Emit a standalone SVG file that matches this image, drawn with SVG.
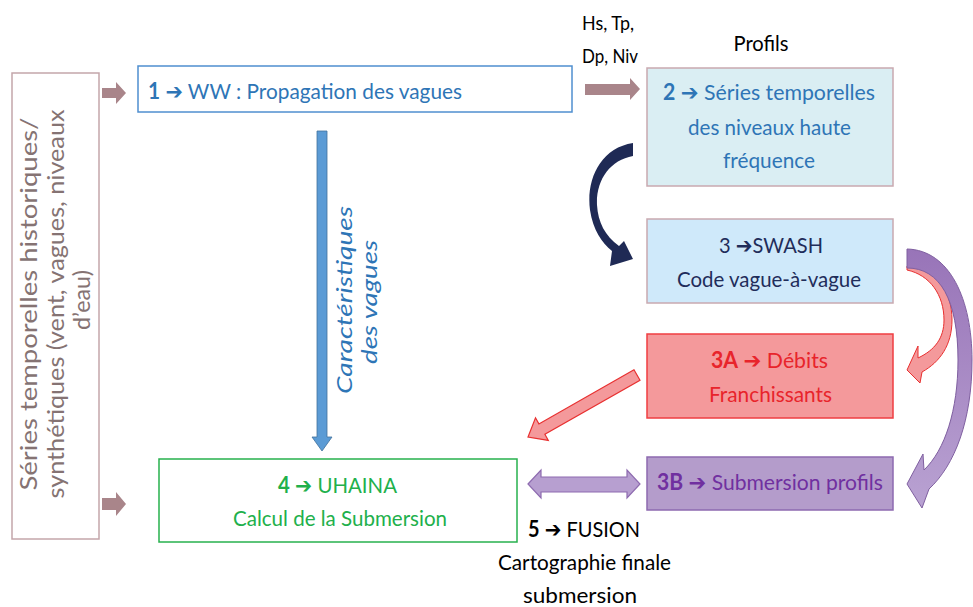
<svg xmlns="http://www.w3.org/2000/svg" width="973" height="607" viewBox="0 0 973 607">
<style>
text{font-family:Lato,"Open Sans","DejaVu Sans",sans-serif;}
.t{font-size:22px;}
.sm{font-size:19px;fill:#000;}
.b{font-weight:bold;}
.ar{font-family:"DejaVu Sans",sans-serif;font-weight:bold;}
.blue{fill:#2E75B6;}
.navy{fill:#1F2D5A;}
.red{fill:#E8242B;}
.pur{fill:#7030A0;}
.grn{fill:#21B04B;}
.blk{fill:#000;}
.brown{fill:#A9858A;}
</style>
<defs>
<linearGradient id="pg" x1="0" y1="0" x2="0" y2="1">
<stop offset="0" stop-color="#9874B8"/>
<stop offset="1" stop-color="#B9A2D2"/>
</linearGradient>
</defs>
<rect width="973" height="607" fill="#fff"/>

<g id="connectors">
<polygon class="brown" points="102,88 116,88 116,82 126,93 116,104 116,98 102,98"/>
<polygon class="brown" points="102,498 116,498 116,492 126,504 116,516 116,510 102,510"/>
<polygon class="brown" points="585,84 630,84 630,78 640,89 630,100 630,95 585,95"/>
<polygon points="317,131 327,131 327,437 332,437 322,451 312,437 317,437" fill="#5B9BD5" stroke="#41719C" stroke-width="0.8"/>
<path d="M633,143 C600,148 586,180 590,210 C593,230 602,243 612,251 L610,266 L633,259 L624,241 L619,246 C605,236 598,222 597,205 C596,180 610,160 633,156 Z" fill="#1F2A55"/>
<path d="M907,266 C935,268 952,290 952,320 C952,345 940,362 922,372 L920,383 L907,370 L918,346 L918,358 C935,350 944,338 944,320 C944,295 930,275 907,270 Z" fill="#F4999B" stroke="#E83030" stroke-width="1"/>
<path d="M907,249 C950,250 972,300 972,360 C972,420 955,465 929,489 L922,508 L907,484 L923,454 L924,470 C945,450 958,410 958,360 C958,300 940,268 907,268 Z" fill="url(#pg)" stroke="#7F5FA0" stroke-width="1"/>
<polygon points="634,369.8 538.9,423.9 535.5,417.8 528,437 548.3,440.4 544.9,434.3 640,380.2" fill="#F4999B" stroke="#E83030" stroke-width="1.2"/>
<polygon points="528,484 541,470 541,477 627,477 627,470 640,484 627,498 627,492 541,492 541,498" fill="#B79FD0" stroke="#8E6BB0" stroke-width="1.2"/>
<text class="sm" x="582" y="30" textLength="52" lengthAdjust="spacingAndGlyphs">Hs, Tp,</text>
<text class="sm" x="582" y="63" textLength="56" lengthAdjust="spacingAndGlyphs">Dp, Niv</text>
<g transform="translate(352,300) rotate(-90)">
<text class="blue" x="0" y="0" font-size="21" font-style="italic" text-anchor="middle" textLength="188" lengthAdjust="spacingAndGlyphs">Caractéristiques</text>
<text class="blue" x="-2" y="25" font-size="21" font-style="italic" text-anchor="middle" textLength="124" lengthAdjust="spacingAndGlyphs">des vagues</text>
</g>
</g>

<g id="node-series">
<rect x="12" y="73" width="87" height="466" fill="#fff" stroke="#C4A6AA" stroke-width="1.5"/>
<g transform="translate(37,304) rotate(-90)" fill="#857373" font-size="23">
<text x="0" y="0" text-anchor="middle" textLength="373" lengthAdjust="spacingAndGlyphs">Séries temporelles historiques/</text>
<text x="0" y="27" text-anchor="middle" textLength="389" lengthAdjust="spacingAndGlyphs">synthétiques (vent, vagues, niveaux</text>
<text x="4" y="53" text-anchor="middle" textLength="60" lengthAdjust="spacingAndGlyphs">d’eau)</text>
</g>
</g>

<g id="node-1">
<rect x="138" y="66" width="434" height="46" fill="#fff" stroke="#4F8FCF" stroke-width="1.5"/>
<text class="t blue" x="148" y="99" textLength="314" lengthAdjust="spacingAndGlyphs"><tspan class="b">1</tspan> <tspan class="ar">➔</tspan> WW : Propagation des vagues</text>
</g>

<g id="node-2">
<text class="blk" x="761" y="51" font-size="21" text-anchor="middle" textLength="55" lengthAdjust="spacingAndGlyphs">Profils</text>
<rect x="647" y="68" width="246" height="118" fill="#DAEEF3" stroke="#C9A9B0" stroke-width="1.5"/>
<text class="t blue" x="769" y="100" text-anchor="middle" textLength="212" lengthAdjust="spacingAndGlyphs"><tspan class="b">2</tspan> <tspan class="ar">➔</tspan> Séries temporelles</text>
<text class="t blue" x="769.5" y="135" text-anchor="middle" textLength="163" lengthAdjust="spacingAndGlyphs">des niveaux haute</text>
<text class="t blue" x="769" y="168" text-anchor="middle" textLength="92" lengthAdjust="spacingAndGlyphs">fréquence</text>
</g>

<g id="node-3">
<rect x="647" y="219" width="246" height="84" fill="#CFE9FA" stroke="#C9A9B0" stroke-width="1.5"/>
<text class="t navy" x="771" y="253" text-anchor="middle" textLength="104" lengthAdjust="spacingAndGlyphs">3 <tspan class="ar">➔</tspan>SWASH</text>
<text class="t navy" x="769" y="287" text-anchor="middle" textLength="184" lengthAdjust="spacingAndGlyphs">Code vague-à-vague</text>
</g>

<g id="node-3A">
<rect x="647" y="334" width="246" height="84" fill="#F4999B" stroke="#EF3E42" stroke-width="1.5"/>
<text class="t red" x="769.5" y="368" text-anchor="middle" textLength="117" lengthAdjust="spacingAndGlyphs"><tspan class="b">3A</tspan> <tspan class="ar">➔</tspan> Débits</text>
<text class="t red" x="770.5" y="402" text-anchor="middle" textLength="123" lengthAdjust="spacingAndGlyphs">Franchissants</text>
</g>

<g id="node-3B">
<rect x="647" y="457" width="246" height="53" fill="#B49CCB" stroke="#8D6AB0" stroke-width="1.5"/>
<text class="t pur" x="770" y="490" text-anchor="middle" textLength="226" lengthAdjust="spacingAndGlyphs"><tspan class="b">3B</tspan> <tspan class="ar">➔</tspan> Submersion profils</text>
</g>

<g id="node-4">
<rect x="159" y="459" width="358" height="83" fill="#fff" stroke="#27B14E" stroke-width="1.5"/>
<text class="t grn" x="337.5" y="493" text-anchor="middle" textLength="119" lengthAdjust="spacingAndGlyphs"><tspan class="b">4</tspan> <tspan class="ar">➔</tspan> UHAINA</text>
<text class="t grn" x="340" y="526" text-anchor="middle" textLength="214" lengthAdjust="spacingAndGlyphs">Calcul de la Submersion</text>
</g>

<g id="node-5">
<text class="t blk" x="584" y="537" text-anchor="middle" textLength="112" lengthAdjust="spacingAndGlyphs"><tspan class="b">5</tspan> <tspan class="ar">➔</tspan> FUSION</text>
<text class="t blk" x="584.5" y="570" text-anchor="middle" textLength="173" lengthAdjust="spacingAndGlyphs">Cartographie finale</text>
<text class="t blk" x="580" y="603" text-anchor="middle" textLength="114" lengthAdjust="spacingAndGlyphs">submersion</text>
</g>
</svg>
